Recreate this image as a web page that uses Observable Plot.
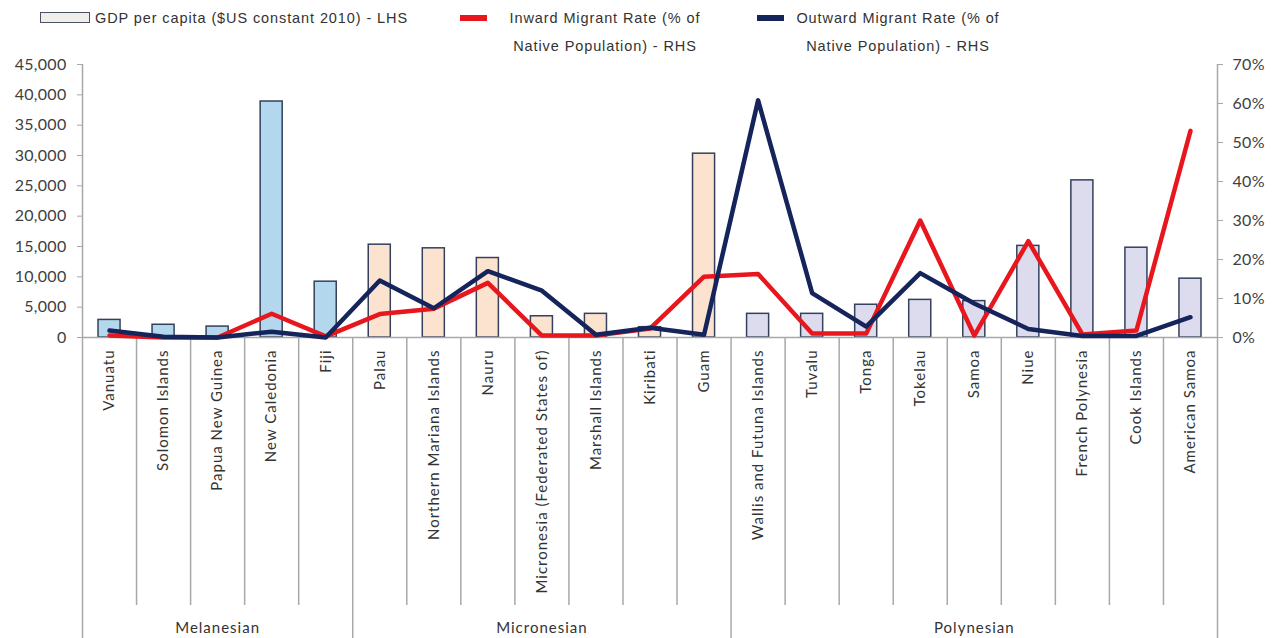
<!DOCTYPE html>
<html><head><meta charset="utf-8">
<script src="https://cdn.jsdelivr.net/npm/d3@7"></script>
<script src="https://cdn.jsdelivr.net/npm/@observablehq/plot@0.6"></script>
<style>
body{margin:0;background:#fff;width:1280px;height:638px;overflow:hidden;}
#legend{position:relative;height:56px;color:#333;font-family:"Liberation Sans",Arial,sans-serif;font-size:14.5px;letter-spacing:0.9px;}
.sw{position:absolute;}
.lt{position:absolute;text-align:center;line-height:28px;white-space:nowrap;}
#chart svg{display:block;}
#chart g[aria-label="x-axis tick label"] text{letter-spacing:1px;}
#chart g[aria-label="y-axis tick label"] text{letter-spacing:0.3px;}
#chart g[aria-label="text"] text{letter-spacing:1px;}
</style></head><body>
<div id="legend"></div>
<div id="chart"></div>
<script>
const countries = ["Vanuatu","Solomon Islands","Papua New Guinea","New Caledonia","Fiji",
  "Palau","Northern Mariana Islands","Nauru","Micronesia (Federated States of)","Marshall Islands","Kiribati","Guam",
  "Wallis and Futuna Islands","Tuvalu","Tonga","Tokelau","Samoa","Niue","French Polynesia","Cook Islands","American Samoa"];
const groups = ["Melanesian","Micronesian","Polynesian"];
const groupSizes = [5, 7, 9];
const gdp = [2900, 2100, 1800, 38900, 9200, 15300, 14700, 13100, 3500, 3900, 1700, 30300,
  3900, 3900, 5400, 6200, 6000, 15100, 25900, 14800, 9700];
const inward = [0.5, 0, 0, 6.1, 0.3, 6.0, 7.4, 14.0, 0.5, 0.5, 2.3, 15.6,
  16.3, 1.0, 1.0, 30.0, 0.5, 24.7, 0.8, 1.8, 53.0];
const outward = [1.8, 0.2, 0, 1.5, 0, 14.6, 7.5, 17.0, 12.0, 0.7, 2.5, 0.7,
  60.8, 11.4, 2.8, 16.5, 8.7, 2.2, 0.4, 0.4, 5.2];
const leftTicks = [0,5000,10000,15000,20000,25000,30000,35000,40000,45000];
const rightTicks = [0,10,20,30,40,50,60,70];
const seriesNames = ["GDP per capita ($US constant 2010) - LHS",
  "Inward Migrant Rate (% of\nNative Population) - RHS",
  "Outward Migrant Rate (% of\nNative Population) - RHS"];

const groupFill = {Melanesian:"#b3d7ec", Micronesian:"#fce3d0", Polynesian:"#dcdcee"};
const redC = "#e8161d", navyC = "#15245a", barStroke = "#34405c", grey = "#a8a8a8";

const leftMax = 45000, rightMax = 70, k = leftMax / rightMax;

const groupOf = [];
groups.forEach((g, gi) => { for (let j = 0; j < groupSizes[gi]; j++) groupOf.push(g); });
const rows = countries.map((c, i) => ({i, c, group: groupOf[i], gdp: gdp[i], inward: inward[i], outward: outward[i]}));

let start = 0;
const groupRows = groups.map((g, gi) => {
  const r = {name: g, first: start, last: start + groupSizes[gi] - 1};
  start += groupSizes[gi];
  return r;
});
const groupBounds = [-0.5, ...groupRows.map(r => r.last + 0.5)];
const separators = d3.range(countries.length - 1).map(i => i + 0.5).filter(x => !groupBounds.includes(x));

const legend = document.getElementById("legend");
legend.innerHTML = `
<div class="sw" style="left:40px;top:12px;width:48px;height:9px;border:1.5px solid #4a5068;background:#efeee8"></div>
<div class="lt" style="left:95px;top:4px;text-align:left">${seriesNames[0]}</div>
<div class="sw" style="left:460px;top:15px;width:27px;height:6px;background:${redC}"></div>
<div class="lt" style="left:497px;top:4px;width:216px">${seriesNames[1].replace("\n","<br>")}</div>
<div class="sw" style="left:757px;top:15px;width:27px;height:6px;background:${navyC}"></div>
<div class="lt" style="left:790px;top:4px;width:216px">${seriesNames[2].replace("\n","<br>")}</div>`;

const font = "Lato, 'Open Sans', sans-serif";
const chart = Plot.plot({
  width: 1280, height: 582,
  marginTop: 8, marginBottom: 301, marginLeft: 82, marginRight: 63,
  x: {type: "linear", domain: [-0.5, countries.length - 0.5]},
  y: {domain: [0, leftMax]},
  style: {fontFamily: font, fontSize: "15px", color: "#404040", background: "white", overflow: "visible"},
  marks: [
    Plot.ruleX(separators, {x: d => d, y1: 0, y2: 0, insetBottom: -268, stroke: grey, strokeWidth: 1.5}),
    Plot.ruleX(groupBounds, {x: d => d, y1: 0, y2: 0, insetBottom: -301, stroke: grey, strokeWidth: 1.5}),
    Plot.ruleX([-0.5, countries.length - 0.5], {x: d => d, y1: leftMax, y2: 0, stroke: grey, strokeWidth: 1.5}),
    Plot.rectY(rows, {x1: d => d.i - 0.5, x2: d => d.i + 0.5, y: "gdp", insetLeft: 16, insetRight: 16,
      fill: d => groupFill[d.group], stroke: barStroke, strokeWidth: 1.5}),
    Plot.ruleY([0], {stroke: grey, strokeWidth: 1.5}),
    Plot.line(rows, {x: "i", y: d => d.inward * k, stroke: redC, strokeWidth: 4.5}),
    Plot.line(rows, {x: "i", y: d => d.outward * k, stroke: navyC, strokeWidth: 4.5}),
    Plot.axisY({ticks: leftTicks, tickFormat: d3.format(","), tickSize: 5, tickPadding: 11, stroke: grey, fill: "#404040", label: null, fontSize: 16}),
    Plot.axisY({anchor: "right", ticks: rightTicks.map(p => p * k), tickFormat: v => Math.round(v / k) + "%",
      tickSize: 5, tickPadding: 10, stroke: grey, fill: "#404040", label: null, fontSize: 16}),
    Plot.axisX({ticks: rows.map(r => r.i), tickFormat: i => countries[i], tickRotate: -90, tickSize: 0, tickPadding: 12,
      fill: "#333", label: null, fontSize: 15}),
    Plot.text(groupRows, {x: d => (d.first + d.last) / 2, y: () => 0, text: "name", dy: 291, fontSize: 15, fill: "#333"})
  ]
});
document.getElementById("chart").appendChild(chart);
</script></body></html>
